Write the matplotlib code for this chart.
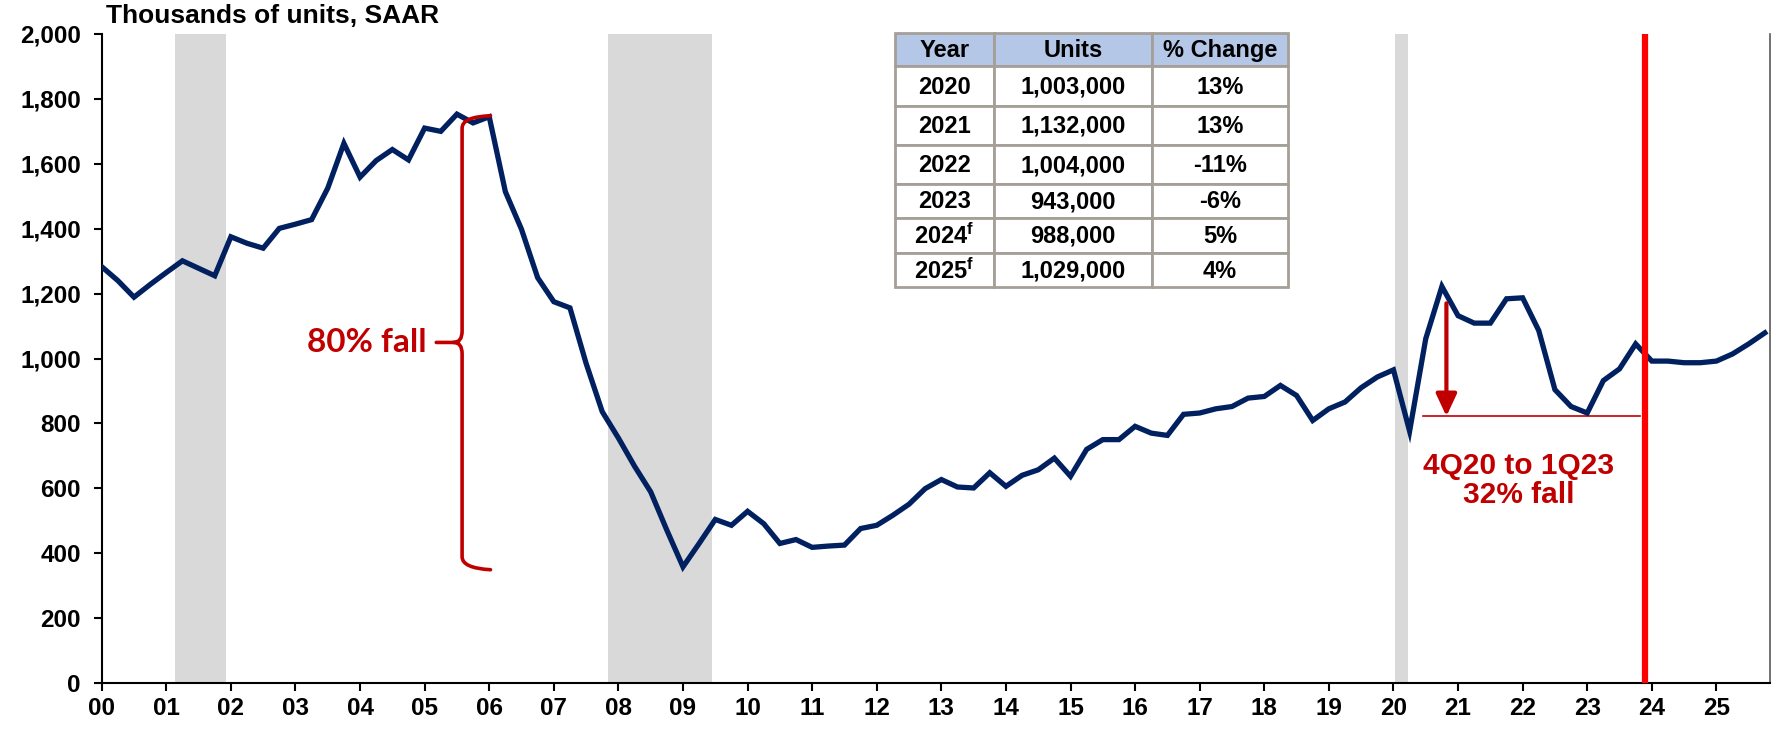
import numpy as np
import matplotlib
matplotlib.use('Agg')
import matplotlib.pyplot as plt
from matplotlib.path import Path
from matplotlib.patches import PathPatch, Rectangle
from matplotlib.ticker import FuncFormatter

plt.rcParams['font.family'] = ['Liberation Sans', 'DejaVu Sans']
plt.rcParams['mathtext.fontset'] = 'custom'
plt.rcParams['mathtext.rm'] = 'Liberation Sans:bold'
plt.rcParams['mathtext.it'] = 'Liberation Sans:bold'
plt.rcParams['mathtext.bf'] = 'Liberation Sans:bold'

# Quarterly housing starts, thousands of units SAAR, 2000Q1 .. 2025Q4
first_year = 2000
starts = [1283, 1240, 1189, 1228, 1265, 1301, 1278, 1255,
          1375, 1355, 1340, 1401, 1414, 1428, 1525, 1663,
          1559, 1610, 1644, 1612, 1710, 1700, 1753, 1726,
          1745, 1514, 1398, 1249, 1175, 1156, 985, 836,
          755, 668, 589, 471, 358, 430, 504, 486,
          529, 491, 430, 442, 418, 422, 425, 476,
          486, 517, 551, 599, 627, 604, 601, 648,
          606, 640, 657, 693, 637, 720, 750, 750,
          791, 770, 763, 828, 832, 845, 852, 878,
          883, 917, 886, 809, 845, 866, 910, 943,
          965, 776, 1061, 1222, 1132, 1109, 1109, 1184,
          1187, 1086, 904, 852, 832, 932, 968, 1045,
          992, 992, 987, 987, 992, 1014, 1045, 1079]

# Recessions (start, end) in fractional years
recessions = [(2001.14, 2001.92), (2007.84, 2009.45), (2020.03, 2020.23)]
forecast_start = 2023.89

# Summary table
tbl_header = ['Year', 'Units', '% Change']
tbl_years = ['2020', '2021', '2022', '2023', r'2024$^{\mathbf{f}}$', r'2025$^{\mathbf{f}}$']
tbl_units = ['1,003,000', '1,132,000', '1,004,000', '943,000', '988,000', '1,029,000']
tbl_change = ['13%', '13%', '-11%', '-6%', '5%', '4%']

# 80% fall: peak to trough, 32% fall: 4Q20 to 1Q23
peak_val, trough_val = 1745, 354
fall_from, fall_to = 1170, 822

x = first_year + np.arange(len(starts)) / 4.0

W, H = 1781, 729
fig = plt.figure(figsize=(W / 100, H / 100), dpi=100)
ax = fig.add_axes([101.7 / W, 1 - 683 / H, (1770 - 101.7) / W, (683 - 34) / H])

navy = '#002060'
dark_red = '#C00000'

for a, b in recessions:
    ax.axvspan(a, b, color='#D9D9D9', lw=0, zorder=0)

ax.plot(x, starts, color=navy, lw=3.8, solid_joinstyle='miter', zorder=3)
ax.axvline(forecast_start, color='#FF0000', lw=4.5, zorder=4)

ax.set_xlim(2000, 2025.83)
ax.set_ylim(0, 2000)
ax.set_yticks(np.arange(0, 2001, 200))
ax.yaxis.set_major_formatter(FuncFormatter(lambda v, p: f'{int(v):,}'))
years = np.arange(2000, 2026)
ax.set_xticks(years)
ax.set_xticklabels([f'{y % 100:02d}' for y in years])
ax.tick_params(axis='both', direction='out', length=6, width=1.5, labelsize=17.5, color='black')
ax.tick_params(axis='y', pad=9)
ax.tick_params(axis='x', pad=4)
for lab in ax.get_xticklabels() + ax.get_yticklabels():
    lab.set_fontweight('bold')
ax.spines['top'].set_visible(False)
ax.spines['left'].set_linewidth(1.5)
ax.spines['bottom'].set_linewidth(1.5)
ax.spines['right'].set_color('#595959')
ax.spines['right'].set_linewidth(1.2)

fig.text(106 / W, 1 - 23 / H, 'Thousands of units, SAAR', fontsize=19,
         fontweight='bold', va='baseline', ha='left')

# Brace for the 80% fall
xb, xr, xl = 2005.58, 2006.02, 2005.18
mid = (peak_val + trough_val) / 2
verts = [(xr, peak_val + 3), (xb, peak_val), (xb, peak_val - 35),
         (xb, mid + 35), (xb, mid), (xb - 0.13, mid),
         (xl, mid),
         (xb - 0.13, mid), (xb, mid), (xb, mid - 35),
         (xb, trough_val + 35), (xb, trough_val), (xr, trough_val - 5)]
codes = [Path.MOVETO, Path.CURVE3, Path.CURVE3,
         Path.LINETO, Path.CURVE3, Path.CURVE3,
         Path.LINETO,
         Path.MOVETO, Path.CURVE3, Path.CURVE3,
         Path.LINETO, Path.CURVE3, Path.CURVE3]
ax.add_patch(PathPatch(Path(verts, codes), fill=False, edgecolor=dark_red,
                       lw=2.6, capstyle='round', zorder=5))
ax.text(2005.03, mid, '80% fall', color=dark_red, fontsize=24, fontweight='bold',
        family=['Lato', 'DejaVu Sans'], ha='right', va='center', zorder=5)

# 32% fall annotation
ax.plot([2020.46, 2023.81], [fall_to, fall_to], color=dark_red, lw=1.2, zorder=2)
ax.annotate('', xy=(2020.82, fall_to), xytext=(2020.82, fall_from),
            arrowprops=dict(arrowstyle='-|>,head_length=0.75,head_width=0.35',
                            color=dark_red, lw=3, mutation_scale=18,
                            shrinkA=0, shrinkB=0), zorder=5)
ax.text(2021.94, 623, '4Q20 to 1Q23\n32% fall', color=dark_red, fontsize=21.5,
        fontweight='bold', ha='center', va='center', linespacing=1.05, zorder=5)

# Table drawn in its own axes, in pixel units
t_left, t_top = 895, 33.3
col_w = [99, 158, 136]
row_h = [32.7, 40, 39, 39, 34, 34.7, 34.6]
t_w, t_h = sum(col_w), sum(row_h)
tax = fig.add_axes([t_left / W, 1 - (t_top + t_h) / H, t_w / W, t_h / H])
tax.set_xlim(0, t_w)
tax.set_ylim(t_h, 0)
tax.axis('off')
border = '#A59F97'
rows = [tbl_header] + [list(r) for r in zip(tbl_years, tbl_units, tbl_change)]
y0 = 0
for i, row in enumerate(rows):
    x0 = 0
    for j, cell in enumerate(row):
        fc = '#B4C7E7' if i == 0 else 'white'
        tax.add_patch(Rectangle((x0, y0), col_w[j], row_h[i], facecolor=fc,
                                edgecolor=border, lw=2, clip_on=False))
        tax.text(x0 + col_w[j] / 2, y0 + row_h[i] / 2 + 1, cell, ha='center', va='center',
                 fontsize=17, fontweight='bold')
        x0 += col_w[j]
    y0 += row_h[i]

fig.savefig('out.png', dpi=100)
